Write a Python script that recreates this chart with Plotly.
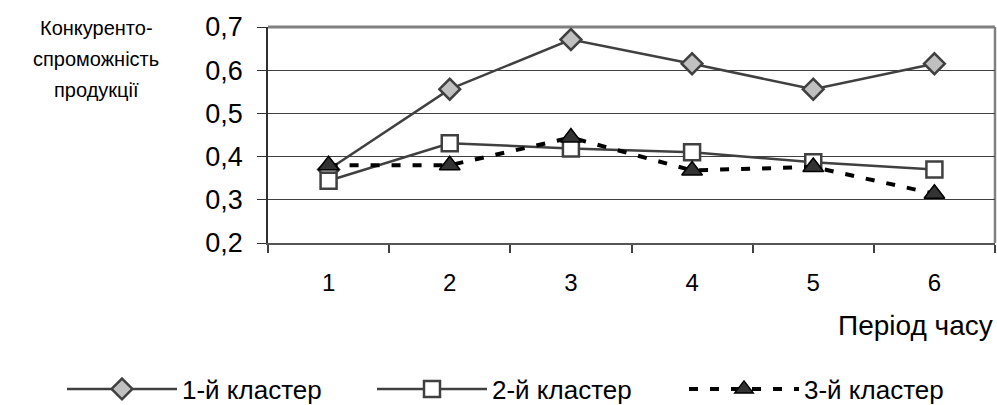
import plotly.graph_objects as go

periods = ["1", "2", "3", "4", "5", "6"]
cluster1 = [0.37, 0.556, 0.671, 0.615, 0.556, 0.615]
cluster2 = [0.344, 0.431, 0.419, 0.41, 0.387, 0.37]
cluster3 = [0.38, 0.38, 0.444, 0.368, 0.376, 0.314]
names = ["1-й кластер", "2-й кластер", "3-й кластер"]
y_title_lines = ["Конкуренто-", "спроможність", "продукції"]
x_title = "Період часу"

FONT = "Liberation Sans, Arial, sans-serif"

fig = go.Figure()
fig.add_trace(go.Scatter(
    x=periods, y=cluster1, name=names[0], mode="lines+markers", legend="legend",
    line=dict(color="#404040", width=2.5),
    marker=dict(symbol="diamond", size=16, color="#c0c0c0",
                line=dict(color="#404040", width=2.5)),
))
fig.add_trace(go.Scatter(
    x=periods, y=cluster2, name=names[1], mode="lines+markers", legend="legend2",
    line=dict(color="#404040", width=2.5),
    marker=dict(symbol="square", size=16, color="white",
                line=dict(color="#404040", width=2.5)),
))
fig.add_trace(go.Scatter(
    x=periods, y=cluster3, name=names[2], mode="lines+markers", legend="legend3",
    line=dict(color="black", width=4, dash="9px,12px"),
    marker=dict(symbol="triangle-up", size=18, color="#333333",
                line=dict(color="black", width=1.5)),
))

legend_common = dict(
    orientation="h", xref="container", yref="container",
    xanchor="left", yanchor="middle", y=1 - 389 / 405,
    font=dict(family=FONT, size=26, color="black"),
    itemwidth=110, bgcolor="rgba(0,0,0,0)",
)

fig.update_layout(
    width=997, height=405,
    margin=dict(l=268, r=2, t=27, b=162),
    paper_bgcolor="white", plot_bgcolor="white",
    separators=", ",
    font=dict(family=FONT, color="black", size=22),
    showlegend=True,
    legend=dict(x=62 / 997, **legend_common),
    legend2=dict(x=372 / 997, **legend_common),
    legend3=dict(x=684 / 997, **legend_common),
)
fig.update_xaxes(
    type="category", tickson="boundaries", ticks="outside", ticklen=8,
    tickcolor="#404040", tickwidth=1.5,
    showline=True, linecolor="#555555", linewidth=2, mirror=False,
    showgrid=False, ticklabelstandoff=17,
    tickfont=dict(size=24, family=FONT),
    range=[-0.5, 5.5],
)
fig.update_yaxes(
    range=[0.2, 0.7], dtick=0.1, tickformat=".1f",
    ticks="outside", ticklen=9, tickcolor="#303030", tickwidth=1,
    showline=True, linecolor="#303030", linewidth=1.5,
    showgrid=True, gridcolor="#404040", gridwidth=1,
    ticklabelstandoff=9, zeroline=False,
    tickfont=dict(size=27, family=FONT),
)
# plot frame (top/right border)
fig.add_shape(type="line", xref="paper", yref="paper", x0=0, x1=1, y0=1, y1=1,
              line=dict(color="#808080", width=3), layer="below")
fig.add_shape(type="line", xref="paper", yref="paper", x0=1, x1=1, y0=0, y1=1,
              line=dict(color="#808080", width=2.5), layer="below")

for i, line_text in enumerate(y_title_lines):
    fig.add_annotation(
        text=line_text, xref="paper", yref="paper",
        x=(96 - 268) / 727, y=1 - (28 + 31 * i - 27) / 215,
        xanchor="center", yanchor="middle", showarrow=False,
        font=dict(family=FONT, size=20, color="black"),
    )
fig.add_annotation(
    text=x_title, xref="paper", yref="paper", x=1.0, y=-(324 - 242) / 215,
    xanchor="right", yanchor="middle", showarrow=False,
    font=dict(family=FONT, size=28, color="black"),
)

fig.write_html("out.html")
